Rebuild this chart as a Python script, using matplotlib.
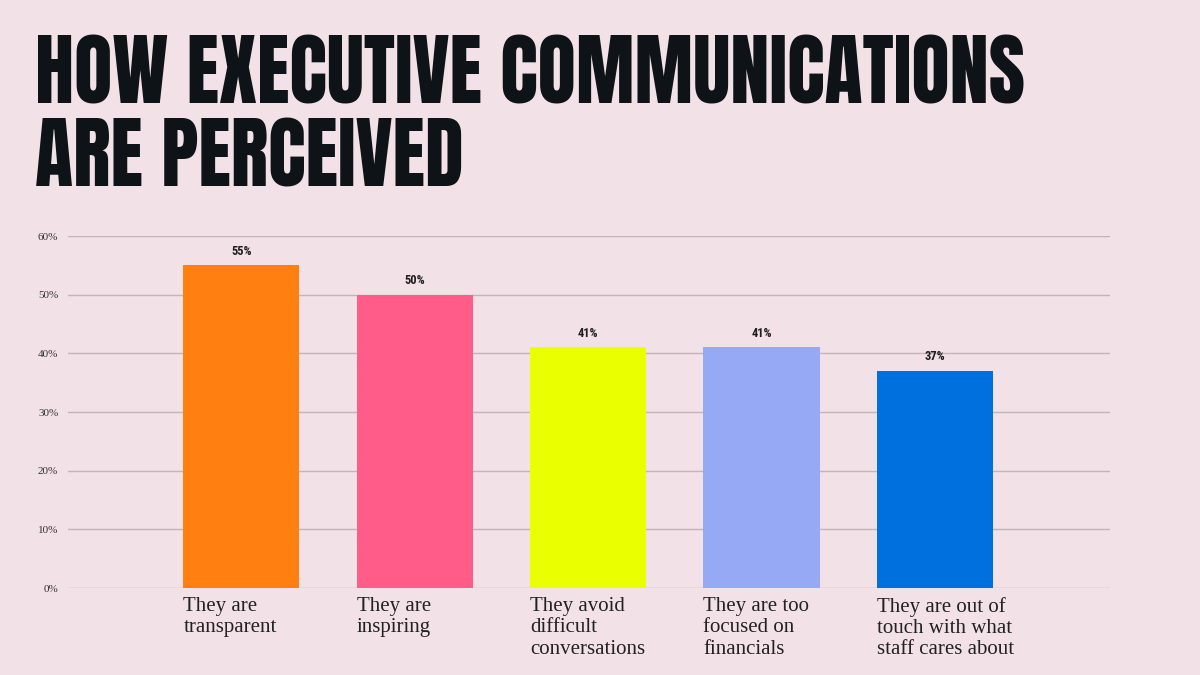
import matplotlib
matplotlib.use("Agg")
from matplotlib import pyplot as plt

categories = [
    "They are\ntransparent",
    "They are\ninspiring",
    "They avoid\ndifficult\nconversations",
    "They are too\nfocused on\nfinancials",
    "They are out of\ntouch with what\nstaff cares about",
]
values = [55, 50, 41, 41, 37]
colors = ["#FF7F11", "#FF5C8A", "#EAFF00", "#96A9F5", "#0070DE"]
yticks = [0, 10, 20, 30, 40, 50, 60]
title_lines = ["HOW EXECUTIVE COMMUNICATIONS", "ARE PERCEIVED"]

bg = "#F2E1E6"
ink = "#0E1317"
title_fam = ["Anton", "League Gothic", "Oswald", "Liberation Sans"]
serif = ["Liberation Serif", "DejaVu Serif"]
label_fam = ["Roboto Condensed", "Liberation Sans Narrow", "DejaVu Sans"]

fig = plt.figure(figsize=(12, 6.75), dpi=100, facecolor=bg)
ax = fig.add_axes([68 / 1200, 1 - 588 / 675, (1110 - 68) / 1200, (588 - 236) / 675])
ax.set_facecolor(bg)

x = list(range(len(values)))
ax.bar(x, values, width=0.67, color=colors, zorder=3)
ax.set_xlim(-1.0, 5.01)
ax.set_ylim(0, 60)

for xi, v in zip(x, values):
    ax.text(xi, v + 1.3, f"{v}%", ha="center", va="bottom", fontsize=9,
            fontweight="bold", family=label_fam, color="#1E1E1E")

ax.set_yticks(yticks)
ax.set_yticklabels([f"{t}%" for t in yticks], family=serif, fontsize=8, color="#333333")
ax.yaxis.grid(True, color="#C2B4B9", linewidth=1, zorder=0)
ax.tick_params(axis="y", length=0, pad=7)
ax.set_xticks([])
for s in ax.spines.values():
    s.set_visible(False)

for xi, lab in zip(x, categories):
    ax.text(xi - 0.335, -1.6, lab, ha="left", va="top", fontsize=15,
            family=serif, color="#222222", linespacing=1.15)

# title, sized to roughly the same width as the reference
t1 = fig.text(35 / 1200, 1 - 103 / 675, title_lines[0], ha="left", va="baseline",
              fontsize=60, family=title_fam, color=ink)
t2 = fig.text(35 / 1200, 1 - 187 / 675, title_lines[1], ha="left", va="baseline",
              fontsize=60, family=title_fam, color=ink)
renderer = fig.canvas.get_renderer()
w = t1.get_window_extent(renderer).width
size = 60 * 990 / w
t1.set_fontsize(size)
t2.set_fontsize(size)

fig.savefig("out.png", dpi=100, facecolor=bg)
